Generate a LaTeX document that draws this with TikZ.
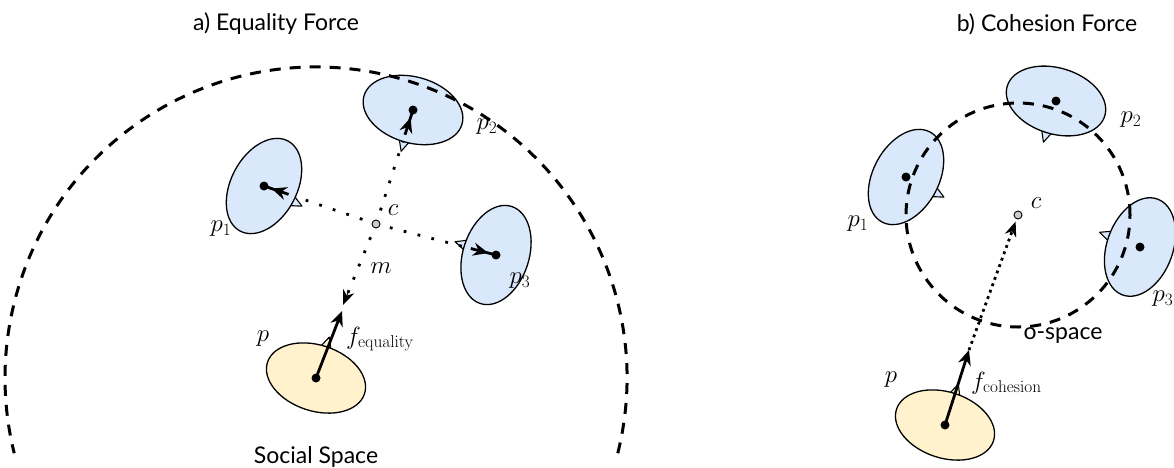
\documentclass[tikz,border=0pt]{standalone}
\usepackage[no-math]{fontspec}
\setmainfont{Lato}
\usetikzlibrary{calc,arrows.meta,shapes.geometric}
\definecolor{pblue}{HTML}{DAE8FC}
\definecolor{porange}{HTML}{FFF2CC}
\definecolor{cgray}{HTML}{CCCCCC}
\tikzset{
  person/.style={ellipse, draw, line width=1.3pt, minimum width=66pt, minimum height=102pt, inner sep=0pt},
  nosestyle/.style={draw, line width=1.1pt, line join=round},
  headdot/.style={circle, fill=black, inner sep=0pt, minimum size=9pt},
  centre/.style={circle, draw, fill=cgray, line width=0.9pt, inner sep=0pt, minimum size=8pt},
  looseline/.style={line width=2.8pt, dash pattern=on 2.8pt off 11.5pt},
  denseline/.style={line width=2.8pt, dash pattern=on 2.8pt off 4pt},
  bigdash/.style={line width=3pt, dash pattern=on 11pt off 9pt},
  force/.style={line width=2.8pt, -{Stealth[length=15pt,width=13pt]}},
  inner/.style={line width=2.8pt, -{Stealth[length=15pt,width=13pt]}},
  lbl/.style={font=\fontsize{26.5}{29}\selectfont, inner sep=0pt},
  ttl/.style={font=\fontsize{23}{26}\selectfont, inner sep=0pt},
}
\newcommand\drawnose[3]{\filldraw[nosestyle,fill=#3] ($(#1)+(#2:28)+(#2+90:7)$) -- ($(#1)+(#2:43)$) -- ($(#1)+(#2:28)+(#2-90:7)$) -- cycle;}
\begin{document}
\begin{tikzpicture}[x=1pt,y=1pt]
\useasboundingbox (0,0) rectangle (1174,-467);
% ---------- coordinates ----------
\coordinate (cL) at (376,-224);
\coordinate (pL1) at (264,-186);
\coordinate (pL2) at (413,-110);
\coordinate (pL3) at (496,-255);
\coordinate (pL) at (316,-378);
\coordinate (mL) at (343,-305);
\coordinate (fL) at (342,-311);
\coordinate (cR) at (1018,-215);
\coordinate (pR1) at (906,-177);
\coordinate (pR2) at (1056,-101);
\coordinate (pR3) at (1140,-247);
\coordinate (pR) at (945,-425);
\coordinate (fR) at (969,-350);
% ---------- noses ----------
\drawnose{pL1}{-28}{pblue}
\drawnose{pL2}{-106}{pblue}
\drawnose{pL3}{162}{pblue}
\drawnose{pL}{72}{porange}
\drawnose{pR1}{-28}{pblue}
\drawnose{pR2}{-107}{pblue}
\drawnose{pR3}{160}{pblue}
\drawnose{pR}{72}{porange}
% ---------- dotted connectors ----------
\draw[looseline] (cL) -- ($(pL1)!30pt!(cL)$);
\draw[looseline] (cL) -- ($(pL2)!30pt!(cL)$);
\draw[looseline] (cL) -- ($(pL3)!30pt!(cL)$);
\draw[looseline] (cL) -- ($(mL)!12pt!(cL)$);
\draw[-{Stealth[length=15pt,width=12pt]}, line width=1pt] ($(mL)!14pt!(cL)$) -- (mL);
\draw[denseline] (fR) -- ($(cR)!18pt!(fR)$);
\draw[-{Stealth[length=15pt,width=12pt]}, line width=1pt] ($(cR)!21pt!(fR)$) -- ($(cR)!7pt!(fR)$);
% ---------- bodies ----------
\node[person, fill=pblue, rotate=-28] (pL1b) at (pL1) {};
\node[person, fill=pblue, rotate=-106] (pL2b) at (pL2) {};
\node[person, fill=pblue, rotate=162] (pL3b) at (pL3) {};
\node[person, fill=porange, rotate=72] (pLb) at (pL) {};
\node[person, fill=pblue, rotate=-28] (pR1b) at (pR1) {};
\node[person, fill=pblue, rotate=-107] (pR2b) at (pR2) {};
\node[person, fill=pblue, rotate=160] (pR3b) at (pR3) {};
\node[person, fill=porange, rotate=72] (pRb) at (pR) {};
% ---------- inner arrows ----------
\foreach \p in {pL1,pL2,pL3}{
  \draw[line width=2.8pt] (\p) -- ($(\p)!12pt!(cL)$);
  \draw[inner] ($(\p)!26pt!(cL)$) -- ($(\p)!8pt!(cL)$);
}
% ---------- head dots ----------
\foreach \p in {pL1,pL2,pL3,pL,pR1,pR2,pR3,pR}{
  \node[headdot] at (\p) {};
}
% ---------- forces ----------
\draw[force] (pL) -- (fL);
\draw[force] (pR) -- (fR);
% ---------- centres ----------
\node[centre] (cLn) at (cL) {};
\node[centre] (cRn) at (cR) {};
% ---------- spaces ----------
\draw[bigdash] (pL) ++(-14:311) arc[start angle=-14, end angle=194, radius=311];
\draw[bigdash] (cR) circle[radius=112];
% ---------- labels ----------
\node[lbl] at (221,-229) {$p_1$};
\node[lbl] at (487,-127) {$p_2$};
\node[lbl] at (520,-281) {$p_3$};
\node[lbl] at (393,-210) {$c$};
\node[lbl] at (381,-268) {$m$};
\node[lbl] at (263,-339) {$p$};
\node[lbl, anchor=west] at (346,-339) {$f_{\mathrm{equality}}$};
\node[ttl] at (316,-457) {Social Space};
\node[ttl] at (276,-24) {a) Equality Force};
\node[ttl] at (1047,-24) {b) Cohesion Force};
\node[lbl] at (858,-224) {$p_1$};
\node[lbl] at (1131,-120) {$p_2$};
\node[lbl] at (1163,-299) {$p_3$};
\node[lbl] at (1036,-203) {$c$};
\node[lbl] at (891,-380) {$p$};
\node[lbl, anchor=west] at (971,-383) {$f_{\mathrm{cohesion}}$};
\node[ttl] at (1063,-336) {o-space};
\end{tikzpicture}
\end{document}
